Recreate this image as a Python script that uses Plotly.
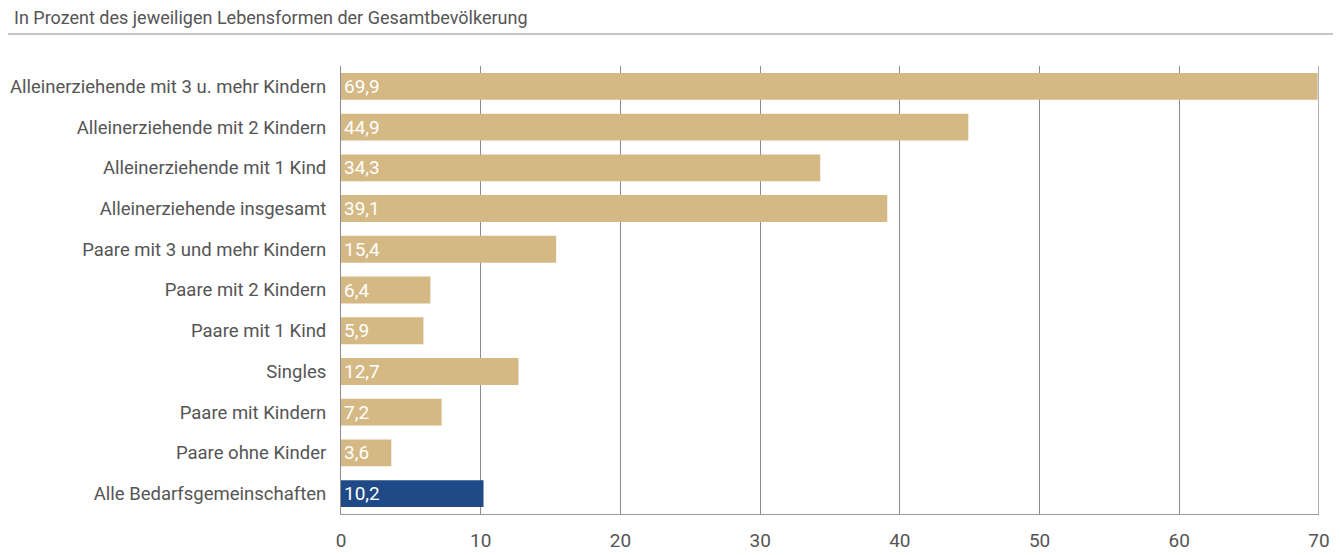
import plotly.graph_objects as go

categories = [
    "Alleinerziehende mit 3 u. mehr Kindern",
    "Alleinerziehende mit 2 Kindern",
    "Alleinerziehende mit 1 Kind",
    "Alleinerziehende insgesamt",
    "Paare mit 3 und mehr Kindern",
    "Paare mit 2 Kindern",
    "Paare mit 1 Kind",
    "Singles",
    "Paare mit Kindern",
    "Paare ohne Kinder",
    "Alle Bedarfsgemeinschaften",
]
values = [69.9, 44.9, 34.3, 39.1, 15.4, 6.4, 5.9, 12.7, 7.2, 3.6, 10.2]
highlight = "Alle Bedarfsgemeinschaften"
x_ticks = [0, 10, 20, 30, 40, 50, 60, 70]
title_text = "In Prozent des jeweiligen Lebensformen der Gesamtbevölkerung"

TAN = "#D4B985"
NAVY = "#1F4A87"
TXT = "#555555"
FONT = "Roboto"

colors = [NAVY if c == highlight else TAN for c in categories]
labels = [f"{v:.1f}".replace(".", ",") for v in values]

fig = go.Figure(
    go.Bar(
        x=values,
        y=categories,
        orientation="h",
        marker=dict(color=colors, line=dict(width=0)),
        width=0.66,
        text=labels,
        textposition="inside",
        insidetextanchor="start",
        constraintext="none",
        textangle=0,
        textfont=dict(color="white", size=19, family=FONT),
        cliponaxis=False,
        hoverinfo="skip",
    )
)

fig.update_layout(
    width=1340,
    height=555,
    margin=dict(l=341, r=21, t=66, b=41, autoexpand=False),
    paper_bgcolor="white",
    plot_bgcolor="white",
    showlegend=False,
    font=dict(family=FONT, color=TXT, size=18),
    uniformtext=dict(mode=False),
    xaxis=dict(
        range=[0, 70],
        tickvals=x_ticks,
        ticktext=[str(t) for t in x_ticks],
        showgrid=True,
        gridcolor="#8c8c8c",
        gridwidth=1,
        zeroline=False,
        showline=True,
        linecolor="#9a9a9a",
        linewidth=1,
        mirror=False,
        tickfont=dict(size=19, color=TXT, family=FONT),
        ticks="",
        ticklabelstandoff=9,
        automargin=False,
        fixedrange=True,
    ),
    yaxis=dict(
        categoryorder="array",
        categoryarray=categories,
        autorange="reversed",
        showgrid=False,
        zeroline=False,
        showline=True,
        linecolor="#8c8c8c",
        linewidth=1,
        ticks="",
        ticklabelstandoff=10,
        tickfont=dict(size=18.5, color=TXT, family=FONT),
        automargin=False,
        fixedrange=True,
    ),
    shapes=[
        dict(
            type="line", xref="paper", yref="paper",
            x0=-333 / 978, x1=992 / 978, y0=(514 - 34) / 448, y1=(514 - 34) / 448,
            line=dict(color="#8c8c8c", width=1),
        ),
        dict(
            type="line", xref="x", yref="paper",
            x0=70, x1=70, y0=0, y1=1,
            line=dict(color="#b0b0b0", width=2),
        ),
    ],
    annotations=[
        dict(
            text=title_text, xref="paper", yref="paper",
            x=-329 / 978, y=(514 - 18) / 448, xanchor="left", yanchor="middle",
            showarrow=False, font=dict(size=18, color=TXT, family=FONT),
        )
    ],
)

fig.write_html(
    "out.html",
    config={"displayModeBar": False},
    post_script="document.body.style.margin='0px';document.body.style.overflow='hidden';",
)
